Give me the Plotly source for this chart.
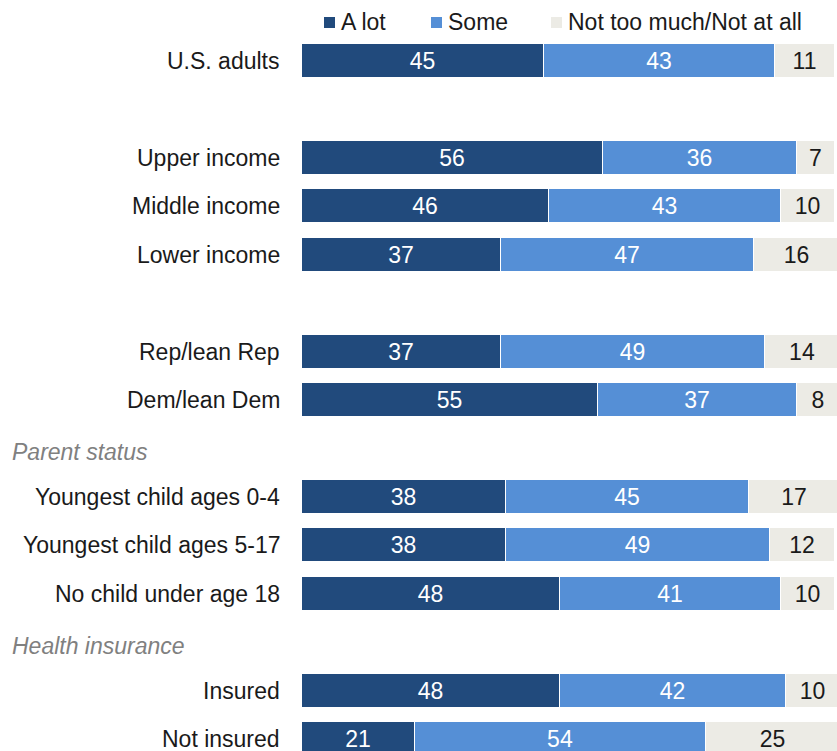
import plotly.graph_objects as go

# Rows of the chart, top to bottom; "" marks a spacer row, headers are section titles
rows = ["U.S. adults", "", "Upper income", "Middle income", "Lower income", "",
        "Rep/lean Rep", "Dem/lean Dem", "Parent status",
        "Youngest child ages 0-4", "Youngest child ages 5-17", "No child under age 18",
        "Health insurance", "Insured", "Not insured"]
headers = ["Parent status", "Health insurance"]

categories = ["U.S. adults", "Upper income", "Middle income", "Lower income",
              "Rep/lean Rep", "Dem/lean Dem",
              "Youngest child ages 0-4", "Youngest child ages 5-17", "No child under age 18",
              "Insured", "Not insured"]
a_lot = [45, 56, 46, 37, 37, 55, 38, 38, 48, 48, 21]
some = [43, 36, 43, 47, 49, 37, 45, 49, 41, 42, 54]
not_much = [11, 7, 10, 16, 14, 8, 17, 12, 10, 10, 25]

series_names = ["A lot", "Some", "Not too much/Not at all"]
series_values = [a_lot, some, not_much]
colors = ["#214a7c", "#558fd6", "#ecebe5"]
text_colors = ["white", "white", "#1a1a1a"]

FONT = "Liberation Sans, Arial, sans-serif"
FS = 23
pos = [rows.index(c) for c in categories]

fig = go.Figure()
for name, vals, col, tcol in zip(series_names, series_values, colors, text_colors):
    fig.add_trace(go.Bar(
        y=pos, x=vals, orientation="h", name=name,
        marker=dict(color=col, line=dict(color="white", width=1)),
        text=[str(v) for v in vals], textposition="inside",
        insidetextanchor="middle", textangle=0,
        textfont=dict(family=FONT, size=FS, color=tcol),
        width=0.7, showlegend=False, hoverinfo="skip",
    ))

annotations = []
for c, p in zip(categories, pos):
    annotations.append(dict(
        x=-0.0374, xref="paper", y=p, yref="y", text=c, showarrow=False,
        xanchor="right", yanchor="middle",
        font=dict(family=FONT, size=FS, color="#1a1a1a")))
for h in headers:
    annotations.append(dict(
        x=-0.5458, xref="paper", y=rows.index(h), yref="y", yshift=-4,
        text=f"<i>{h}</i>", showarrow=False, xanchor="left", yanchor="middle",
        font=dict(family=FONT, size=FS, color="#808080")))

# Legend row drawn along the top
legend_sq_x = [324, 431, 551]
shapes = []
for name, col, sx in zip(series_names, colors, legend_sq_x):
    x0 = (sx - 302) / 535
    x1 = (sx + 11 - 302) / 535
    shapes.append(dict(type="rect", xref="paper", yref="paper",
                       x0=x0, x1=x1, y0=1 - 28 / 751, y1=1 - 17 / 751,
                       fillcolor=col, line=dict(width=0)))
    annotations.append(dict(
        x=(sx + 15 - 302) / 535, xref="paper", y=1 - 22 / 751, yref="paper",
        text=name, showarrow=False, xanchor="left", yanchor="middle",
        font=dict(family=FONT, size=FS, color="#1a1a1a")))

fig.update_layout(
    width=837, height=751,
    margin=dict(l=302, r=0, t=0, b=0),
    paper_bgcolor="white", plot_bgcolor="white",
    barmode="stack", bargap=0,
    xaxis=dict(range=[0, 99.44], visible=False, fixedrange=True),
    yaxis=dict(range=[14.248, -1.26], visible=False, fixedrange=True),
    uniformtext=dict(minsize=FS, mode="show"),
    annotations=annotations, shapes=shapes,
    showlegend=False,
)

fig.write_html("out.html")
